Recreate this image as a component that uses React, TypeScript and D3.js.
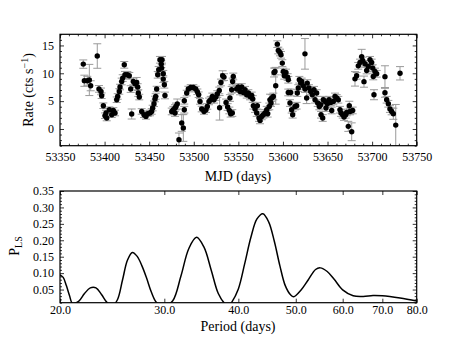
import React, { useEffect, useRef } from "react"
import * as d3 from "d3"

// light curve (MJD, rate, 1-sigma error)
const mjd = [
  53376.1, 53377.3, 53380.6, 53382.9, 53384.4, 53391.8, 53393.7, 53396.0, 53396.7, 53398.6,
  53400.5, 53402.4, 53401.6, 53405.3, 53408.0, 53409.8, 53411.7, 53413.6, 53414.7, 53416.5,
  53417.3, 53419.2, 53420.3, 53422.1, 53422.9, 53425.5, 53427.7, 53429.3, 53430.4, 53432.2,
  53434.1, 53436.0, 53437.1, 53437.8, 53438.9, 53441.6, 53444.2, 53446.4, 53448.3, 53450.9,
  53452.8, 53453.9, 53455.4, 53456.5, 53457.3, 53458.4, 53459.6, 53460.7, 53462.1, 53464.4,
  53463.6, 53464.0, 53465.8, 53465.8, 53467.0, 53467.7, 53475.3, 53477.1, 53479.0, 53480.1,
  53481.5, 53479.0, 53483.4, 53486.5, 53488.3, 53489.4, 53489.4, 53492.1, 53493.9, 53496.6,
  53499.5, 53502.2, 53504.0, 53505.5, 53507.0, 53508.9, 53511.5, 53513.7, 53515.2, 53517.1,
  53519.0, 53520.8, 53522.7, 53524.9, 53526.4, 53528.6, 53530.5, 53532.4, 53533.9, 53529.0,
  53536.2, 53538.0, 53539.9, 53541.4, 53543.2, 53540.6, 53542.5, 53543.6, 53544.3, 53548.1,
  53549.9, 53551.9, 53553.8, 53555.6, 53557.5, 53559.4, 53561.2, 53563.1, 53565.0, 53566.1,
  53566.8, 53568.7, 53570.6, 53571.3, 53573.2, 53574.3, 53576.2, 53578.0, 53579.9, 53581.8,
  53582.9, 53584.7, 53585.5, 53586.6, 53587.4, 53589.2, 53590.0, 53591.1, 53591.9, 53593.7,
  53594.8, 53596.7, 53597.8, 53599.3, 53600.4, 53601.5, 53603.4, 53605.3, 53606.0, 53606.0,
  53608.7, 53607.9, 53609.8, 53610.9, 53613.5, 53615.4, 53616.1, 53617.2, 53618.4, 53619.9,
  53621.0, 53622.8, 53624.7, 53624.7, 53626.6, 53627.3, 53629.2, 53631.1, 53632.9, 53634.8,
  53636.0, 53637.8, 53639.0, 53640.8, 53642.3, 53642.7, 53644.6, 53645.3, 53647.2, 53648.3,
  53649.8, 53651.7, 53653.6, 53654.7, 53656.5, 53658.4, 53660.3, 53662.1, 53664.0, 53665.1,
  53667.0, 53668.5, 53670.4, 53671.5, 53673.3, 53674.4, 53675.2, 53677.1, 53678.2, 53680.8,
  53682.7, 53684.5, 53686.4, 53688.3, 53689.4, 53690.9, 53692.0, 53693.9, 53695.7, 53697.6,
  53699.5, 53700.7, 53701.3, 53702.1, 53703.2, 53705.1, 53714.4, 53714.4, 53716.3, 53718.2,
  53720.0, 53721.9, 53723.8, 53726.5, 53731.3,
]

const rate = [
  11.65, 8.66, 8.66, 8.8, 7.76, 13.1, 7.2, 6.75, 5.97, 4.18,
  2.38, 1.97, 2.87, 3.46, 2.56, 3.33, 2.87, 5.25, 5.84, 6.74,
  7.53, 8.53, 9.14, 11.52, 9.73, 9.73, 9.55, 7.17, 2.69, 8.53,
  8.12, 8.35, 7.53, 6.45, 5.73, 3.15, 2.56, 2.26, 2.74, 2.87,
  3.15, 3.76, 4.53, 5.38, 5.84, 7.17, 9.73, 10.63, 12.42, 12.42,
  11.65, 10.93, 9.91, 8.96, 7.94, 6.02, 3.15, 3.46, 3.76, 4.05,
  4.48, 2.87, -1.92, 1.08, 0.18, 3.46, 5.07, 6.45, 7.17, 7.46,
  7.46, 7.17, 6.68, 6.15, 4.95, 3.58, 3.15, 3.46, 4.05, 4.95,
  5.25, 5.84, 5.25, 5.73, 6.27, 6.92, 8.35, 9.55, 9.32, 3.8,
  4.77, 3.94, 3.33, 2.74, 2.87, 5.56, 7.04, 8.53, 9.43, 7.17,
  7.53, 6.74, 7.53, 6.56, 7.04, 6.15, 6.45, 5.84, 6.02, 5.38,
  4.18, 3.58, 2.87, 4.18, 1.97, 1.54, 2.26, 2.56, 2.87, 3.46,
  2.74, 4.05, 5.25, 4.66, 5.56, 5.84, 10.14, 10.32, 7.76, 15.23,
  14.09, 13.73, 13.32, 11.83, 10.32, 9.55, 10.14, 9.32, 8.84, 6.56,
  6.56, 4.66, 3.46, 2.56, 4.05, 4.18, 6.45, 7.35, 8.84, 8.24,
  8.53, 7.76, 13.49, 7.17, 5.56, 8.24, 7.35, 6.74, 6.15, 7.04,
  5.25, 6.45, 4.66, 4.05, 4.35, 2.56, 1.97, 5.25, 4.95, 3.76,
  4.53, 5.25, 4.77, 3.33, 4.95, 5.84, 5.56, 5.25, 3.46, 2.87,
  2.56, 2.15, 2.56, 2.97, 0.47, 4.18, 3.15, -0.5, 3.33, 9.0,
  9.55, 11.34, 11.94, 13.0, 12.29, 8.5, 11.7, 10.5, 11.22, 12.42,
  11.94, 10.93, 9.43, 6.15, 10.32, 9.91, 9.4, 6.5, 5.25, 4.53,
  3.58, 3.15, 2.74, 0.7, 10.0,
]

const rateErr = [
  0.75, 1.0, 0.8, 2.8, 0.9, 2.2, 0.6, 0.6, 0.5, 0.5,
  0.5, 0.5, 0.5, 0.5, 0.5, 0.5, 0.5, 0.5, 0.5, 0.5,
  0.5, 0.6, 0.6, 0.6, 0.6, 0.6, 0.6, 0.6, 0.9, 0.6,
  0.6, 0.9, 0.6, 0.6, 0.5, 0.5, 0.5, 0.5, 0.5, 0.5,
  0.5, 0.5, 0.5, 0.5, 0.5, 0.5, 0.6, 0.6, 0.6, 0.6,
  0.6, 0.6, 0.6, 0.6, 0.6, 0.6, 0.6, 0.6, 0.6, 0.6,
  0.9, 0.6, 1.2, 1.5, 2.4, 0.6, 0.6, 0.5, 0.5, 0.5,
  0.5, 0.5, 0.5, 0.5, 0.5, 0.5, 0.5, 0.5, 0.5, 0.6,
  0.6, 0.6, 0.6, 0.6, 0.6, 0.6, 0.6, 0.9, 0.6, 2.2,
  0.6, 0.6, 0.6, 0.6, 0.6, 0.6, 0.6, 0.6, 0.6, 0.6,
  0.6, 0.6, 0.6, 0.6, 0.6, 0.6, 0.6, 0.6, 0.6, 0.6,
  0.6, 0.6, 0.6, 0.6, 0.6, 0.6, 0.6, 0.6, 0.6, 0.6,
  0.6, 0.6, 1.0, 0.6, 0.6, 0.6, 0.8, 0.6, 3.3, 0.6,
  0.6, 0.6, 0.6, 0.6, 0.6, 0.6, 0.6, 0.6, 0.6, 0.6,
  0.6, 0.6, 0.6, 0.6, 0.6, 0.6, 0.6, 0.6, 0.6, 0.6,
  0.6, 0.6, 2.75, 0.6, 1.0, 0.6, 0.6, 0.6, 0.6, 0.6,
  0.6, 0.6, 0.6, 0.6, 0.6, 0.6, 0.6, 0.6, 0.6, 0.6,
  0.6, 0.6, 0.6, 0.6, 0.6, 0.6, 0.6, 0.6, 0.6, 0.6,
  0.6, 0.6, 0.6, 0.6, 0.9, 0.8, 0.6, 1.6, 0.6, 1.3,
  0.6, 0.6, 0.6, 1.3, 0.6, 1.0, 0.6, 0.6, 0.6, 0.6,
  0.6, 0.6, 0.6, 0.9, 0.6, 0.6, 1.95, 0.8, 0.6, 0.6,
  0.6, 0.6, 1.0, 3.7, 1.2,
]

// Lomb-Scargle periodogram
const periods = [
  20, 20.25, 20.5, 20.75, 21, 21.5, 22, 22.5, 23, 23.5, 24, 24.5, 25, 25.5, 26, 26.5, 27, 27.5,
  28, 28.5, 29, 29.5, 30, 31, 32, 33, 34, 35, 36, 37, 38, 38.5, 39, 40, 41, 42, 43, 44, 45, 46,
  47, 48, 49, 49.6, 51, 52.5, 54, 55, 56.5, 58, 60, 62.5, 65, 67.5, 70, 75, 80,
]
const power = [
  0.095, 0.087, 0.062, 0.032, 0.008, 0.014, 0.038, 0.055, 0.055, 0.035, 0.011, 0.0, 0.019, 0.079,
  0.14, 0.163, 0.151, 0.122, 0.085, 0.044, 0.014, 0.002, 0.0, 0.016, 0.091, 0.175, 0.209, 0.179,
  0.109, 0.038, 0.006, 0.0, 0.012, 0.052, 0.129, 0.209, 0.265, 0.281, 0.256, 0.197, 0.123, 0.062,
  0.034, 0.028, 0.048, 0.08, 0.111, 0.116, 0.105, 0.082, 0.049, 0.031, 0.029, 0.032, 0.031,
  0.024, 0.015,
]

const xTicksTop = [53350, 53400, 53450, 53500, 53550, 53600, 53650, 53700, 53750]
const yTicksTop = [0, 5, 10, 15]
const xTicksBottom = [20, 30, 40, 50, 60, 70, 80]
const yTicksBottom = [0.05, 0.1, 0.15, 0.2, 0.25, 0.3, 0.35]

const FONT = "'Liberation Serif', 'Times New Roman', serif"

const App = () => {
  const ref = useRef<SVGSVGElement>(null)

  useEffect(() => {
    const svg = d3.select(ref.current)
    svg.selectAll("*").remove()

    const left = 60
    const right = 416.7
    const top1 = 34.3
    const bot1 = 145.7
    const top2 = 191
    const bot2 = 302.7

    const x1 = d3.scaleLinear().domain([53350, 53750]).range([left, right])
    const y1 = d3.scaleLinear().domain([-3, 17]).range([bot1, top1])
    const x2 = d3.scaleLog().domain([20, 80]).range([left, right])
    const y2 = d3.scaleLinear().domain([0.01, 0.35]).range([bot2, top2])

    const defs = svg.append("defs")
    defs.append("clipPath").attr("id", "clip1").append("rect")
      .attr("x", left).attr("y", top1).attr("width", right - left).attr("height", bot1 - top1)
    defs.append("clipPath").attr("id", "clip2").append("rect")
      .attr("x", left).attr("y", top2).attr("width", right - left).attr("height", bot2 - top2)

    // draws inward ticks on all four sides
    const axes = (x, y, top, bot, xMaj, xMin, yMaj, yMin, xFmt, yFmt, xPad) => {
      const g = svg.append("g")
      const add = (axis, tx, ty) => {
        const a = g.append("g").attr("transform", `translate(${tx},${ty})`).call(axis)
        a.select(".domain").remove()
        a.selectAll("line").attr("stroke", "#000").attr("stroke-width", 0.8)
        a.selectAll("text").attr("font-family", FONT).attr("font-size", 12).attr("fill", "#000")
        a.attr("font-family", null).attr("font-size", null)
      }
      add(d3.axisBottom(x).tickValues(xMaj).tickSizeInner(-4).tickSizeOuter(0).tickPadding(xPad).tickFormat(xFmt), 0, bot)
      add(d3.axisTop(x).tickValues(xMaj).tickSizeInner(-4).tickSizeOuter(0).tickFormat(() => ""), 0, top)
      add(d3.axisLeft(y).tickValues(yMaj).tickSizeInner(-4).tickSizeOuter(0).tickPadding(6).tickFormat(yFmt), left, 0)
      add(d3.axisRight(y).tickValues(yMaj).tickSizeInner(-4).tickSizeOuter(0).tickFormat(() => ""), right, 0)
      if (xMin.length) {
        add(d3.axisBottom(x).tickValues(xMin).tickSizeInner(-2).tickSizeOuter(0).tickFormat(() => ""), 0, bot)
        add(d3.axisTop(x).tickValues(xMin).tickSizeInner(-2).tickSizeOuter(0).tickFormat(() => ""), 0, top)
      }
      add(d3.axisLeft(y).tickValues(yMin).tickSizeInner(-2).tickSizeOuter(0).tickFormat(() => ""), left, 0)
      add(d3.axisRight(y).tickValues(yMin).tickSizeInner(-2).tickSizeOuter(0).tickFormat(() => ""), right, 0)
      g.append("rect")
        .attr("x", left).attr("y", top).attr("width", right - left).attr("height", bot - top)
        .attr("fill", "none").attr("stroke", "#000").attr("stroke-width", 1.2)
    }

    // --- top panel: light curve
    const p1 = svg.append("g").attr("clip-path", "url(#clip1)")
    const pts = mjd.map((m, i) => ({ m, r: rate[i], e: rateErr[i] }))
    const eb = p1.append("g").attr("stroke", "#9a9a9a").attr("stroke-width", 1)
    pts.forEach((d) => {
      const cx = x1(d.m)
      const yl = y1(d.r - d.e)
      const yh = y1(d.r + d.e)
      eb.append("line").attr("x1", cx).attr("x2", cx).attr("y1", yl).attr("y2", yh)
      eb.append("line").attr("x1", cx - 4).attr("x2", cx + 4).attr("y1", yl).attr("y2", yl)
      eb.append("line").attr("x1", cx - 4).attr("x2", cx + 4).attr("y1", yh).attr("y2", yh)
    })
    p1.append("g")
      .selectAll("circle")
      .data(pts)
      .join("circle")
      .attr("cx", (d) => x1(d.m))
      .attr("cy", (d) => y1(d.r))
      .attr("r", 2.7)
      .attr("fill", "#000")

    const minorX1 = d3.range(53350, 53751, 10).filter((v) => v % 50 !== 0)
    const minorY1 = d3.range(-3, 18, 1).filter((v) => v % 5 !== 0)
    axes(x1, y1, top1, bot1, xTicksTop, minorX1, yTicksTop, minorY1, d3.format("d"), d3.format("d"), 7)

    // --- bottom panel: periodogram
    const line = d3
      .line()
      .x((d) => x2(d[0]))
      .y((d) => y2(d[1]))
      .curve(d3.curveCatmullRom.alpha(0.5))
    svg.append("g").attr("clip-path", "url(#clip2)")
      .append("path")
      .datum(periods.map((p, i) => [p, power[i]]))
      .attr("d", line)
      .attr("fill", "none")
      .attr("stroke", "#000")
      .attr("stroke-width", 1.5)

    const minorY2 = d3.range(1, 36).map((v) => v / 100).filter((v) => Math.round(v * 100) % 5 !== 0)
    axes(x2, y2, top2, bot2, xTicksBottom, [], yTicksBottom, minorY2, d3.format(".1f"), d3.format(".2f"), 3)

    // --- axis labels
    const lab = (t) => t.attr("font-family", FONT).attr("font-size", 14).attr("fill", "#000")
    lab(svg.append("text").attr("x", 238).attr("y", 181).attr("text-anchor", "middle").text("MJD (days)"))
    lab(svg.append("text").attr("x", 238).attr("y", 331).attr("text-anchor", "middle").text("Period (days)"))

    const rl = lab(svg.append("text").attr("transform", "translate(33,90) rotate(-90)").attr("text-anchor", "middle"))
    rl.append("tspan").text("Rate (cts s")
    rl.append("tspan").attr("font-size", 10).attr("dy", -5).text("\u22121")
    rl.append("tspan").attr("dy", 5).text(")")

    const pl = lab(svg.append("text").attr("transform", "translate(19,246) rotate(-90)").attr("text-anchor", "middle"))
    pl.append("tspan").text("P")
    pl.append("tspan").attr("font-size", 10).attr("dy", 3).text("LS")
  }, [])

  return <svg ref={ref} width={463} height={348} style={{ position: "absolute", left: 0, top: 0, background: "#fff" }}></svg>
}

export default App
